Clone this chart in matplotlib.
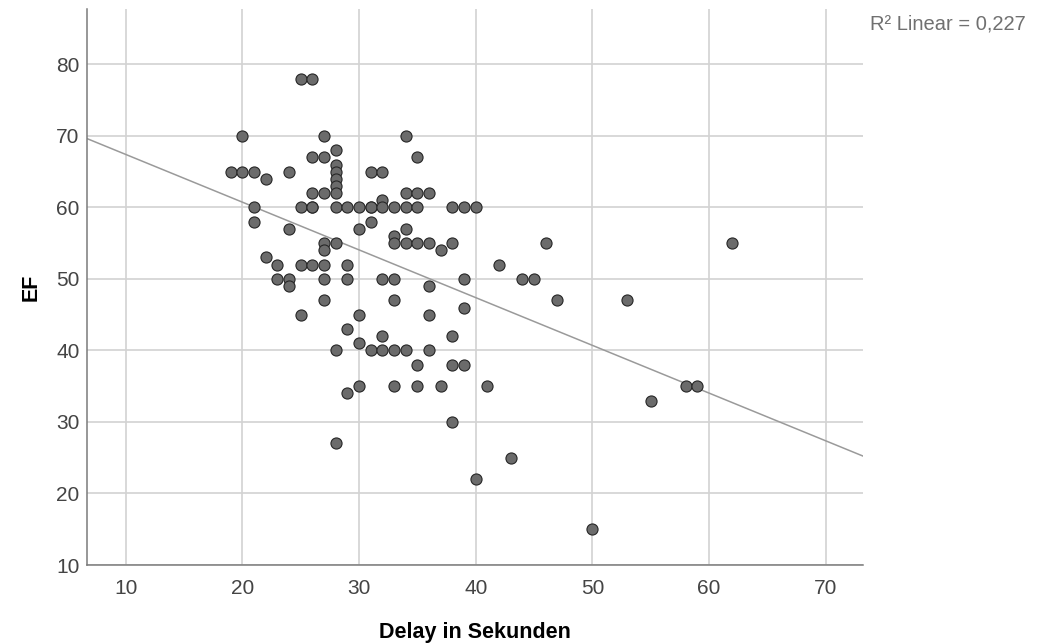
"""Scatter of EF against delay (seconds) with linear fit line."""
import numpy as np
import matplotlib
matplotlib.use("Agg")
import matplotlib.pyplot as plt

# delay in seconds and EF (%), one entry per patient
delay = [19,
         20, 20,
         21, 21, 21,
         22, 22,
         23, 23,
         24, 24, 24, 24,
         25, 25, 25, 25,
         26, 26, 26, 26, 26, 26,
         27, 27, 27, 27, 27, 27, 27, 27,
         28, 28, 28, 28, 28, 28, 28, 28, 28, 28,
         29, 29, 29, 29, 29,
         30, 30, 30, 30, 30,
         31, 31, 31, 31, 31,
         32, 32, 32, 32, 32, 32,
         33, 33, 33, 33, 33, 33, 33,
         34, 34, 34, 34, 34, 34,
         35, 35, 35, 35, 35, 35,
         36, 36, 36, 36, 36,
         37, 37,
         38, 38, 38, 38, 38,
         39, 39, 39, 39,
         40, 40,
         41, 42, 43, 44, 45, 46, 47, 50, 53, 55, 58, 59, 62]
ef = [65,
      70, 65,
      65, 60, 58,
      64, 53,
      52, 50,
      65, 57, 50, 49,
      78, 60, 52, 45,
      78, 67, 62, 60, 60, 52,
      70, 67, 62, 55, 54, 52, 50, 47,
      68, 66, 65, 64, 63, 62, 60, 55, 40, 27,
      60, 52, 50, 43, 34,
      60, 57, 45, 41, 35,
      65, 60, 60, 58, 40,
      65, 61, 60, 50, 42, 40,
      60, 56, 55, 50, 47, 40, 35,
      70, 62, 60, 57, 55, 40,
      67, 62, 60, 55, 38, 35,
      62, 55, 49, 45, 40,
      54, 35,
      60, 55, 42, 38, 30,
      60, 50, 46, 38,
      60, 22,
      35, 52, 25, 50, 50, 55, 47, 15, 47, 33, 35, 35, 55]

x_ticks = [10, 20, 30, 40, 50, 60, 70]
y_ticks = [10, 20, 30, 40, 50, 60, 70, 80]
r2_text = "R\u00b2 Linear = 0,227"

plt.rcParams["font.family"] = ["Liberation Sans", "DejaVu Sans"]

x = np.array(delay, dtype=float)
y = np.array(ef, dtype=float)
slope, intercept = np.polyfit(x, y, 1)

fig = plt.figure(figsize=(10.38, 6.43), dpi=100)
ax = fig.add_axes([0.0835, 0.1213, 0.7482, 0.8642])

xlim = (6.66, 73.22)
ylim = (10, 87.7)
ax.set_xlim(*xlim)
ax.set_ylim(*ylim)

ax.set_xticks(x_ticks)
ax.set_yticks(y_ticks)
ax.grid(True, color="#d2d2d2", lw=1.2, zorder=0)
ax.set_axisbelow(True)

xx = np.array(xlim)
ax.plot(xx, intercept + slope * xx, color="#9a9a9a", lw=1.1, zorder=2)

ax.scatter(x, y, s=64, facecolor="#6b6b6b", edgecolor="#262626",
           linewidth=0.8, zorder=3)

for side in ("top", "right"):
    ax.spines[side].set_visible(False)
for side in ("left", "bottom"):
    ax.spines[side].set_color("#7a7a7a")
    ax.spines[side].set_linewidth(1.1)

ax.tick_params(length=0, labelsize=15, labelcolor="#444444")
ax.tick_params(axis="x", pad=10)
ax.tick_params(axis="y", pad=5)

ax.set_xlabel("Delay in Sekunden", fontsize=15.5, fontweight="bold")
ax.set_ylabel("EF", fontsize=15.5, fontweight="bold")
ax.xaxis.set_label_coords(0.5, -0.102)
ax.yaxis.set_label_coords(-0.058, 0.5)

fig.text(0.838, 0.962, r2_text, fontsize=14.5, color="#707070",
         ha="left", va="center")

fig.savefig("out.png", dpi=100, facecolor="white")
